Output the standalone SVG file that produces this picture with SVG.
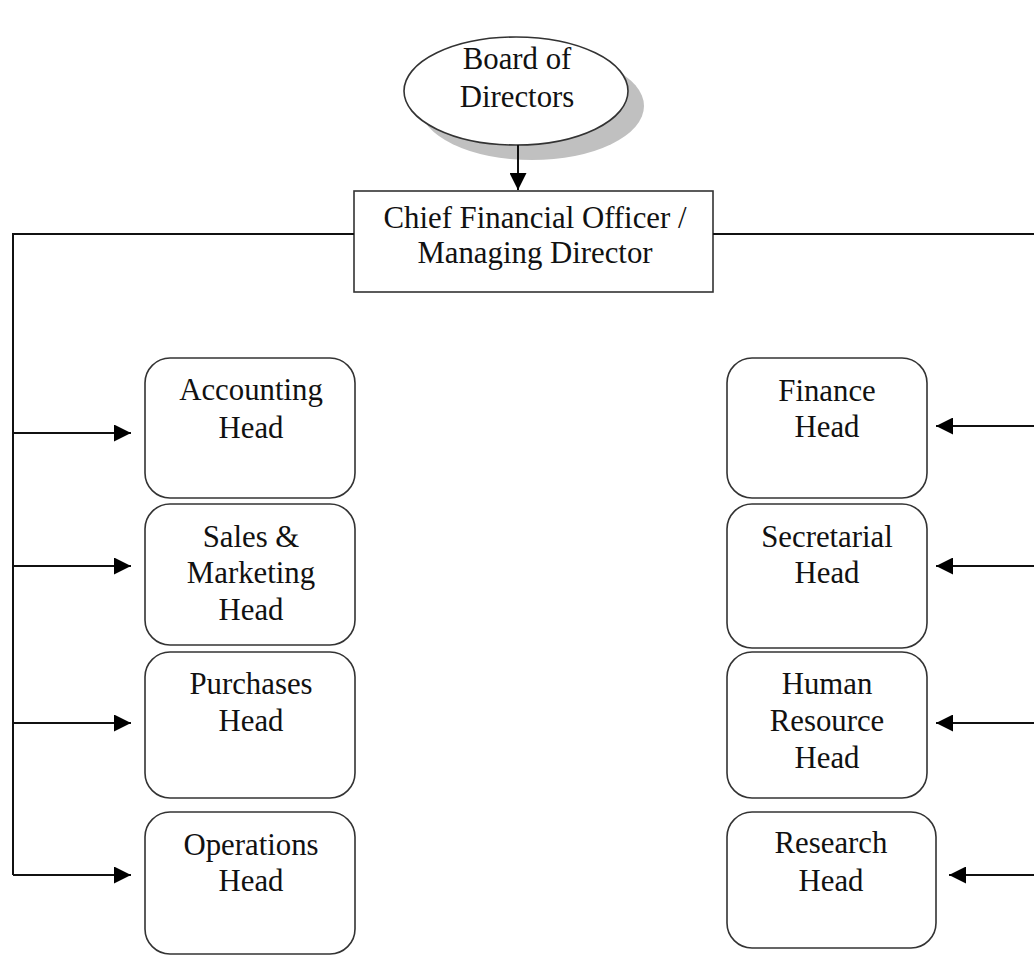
<svg xmlns="http://www.w3.org/2000/svg" width="1034" height="956" viewBox="0 0 1034 956">
<style>
.t{font-family:"Liberation Serif","Times New Roman",serif;font-size:30.8px;fill:#111;text-anchor:middle}
.box{fill:#fff;stroke:#333;stroke-width:1.6}
.ln{fill:none;stroke:#111;stroke-width:2}
</style>
<defs>
<marker id="ah" markerWidth="17" markerHeight="17" refX="17" refY="8.5" orient="auto" markerUnits="userSpaceOnUse">
<path d="M0,0 L17,8.5 L0,17 Z" fill="#000"/>
</marker>
</defs>
<rect width="1034" height="956" fill="#fff"/>
<g id="board">
<ellipse cx="532" cy="106" rx="112" ry="54" fill="#c0c0c0"/>
<ellipse cx="516" cy="91" rx="112" ry="54" class="box"/>
<text class="t" x="517" y="69">Board of</text>
<text class="t" x="517" y="107">Directors</text>
</g>
<g id="cfo">
<rect x="354" y="191" width="359" height="101" class="box"/>
<text class="t" x="535" y="228">Chief Financial Officer /</text>
<text class="t" x="535" y="263">Managing Director</text>
</g>
<g id="accounting">
<rect x="145" y="358" width="210" height="140" rx="25" class="box"/>
<text class="t" x="251" y="400">Accounting</text>
<text class="t" x="251" y="438">Head</text>
</g>
<g id="sales">
<rect x="145" y="504" width="210" height="141" rx="25" class="box"/>
<text class="t" x="251" y="547">Sales &amp;</text>
<text class="t" x="251" y="583">Marketing</text>
<text class="t" x="251" y="620">Head</text>
</g>
<g id="purchases">
<rect x="145" y="652" width="210" height="146" rx="25" class="box"/>
<text class="t" x="251" y="694">Purchases</text>
<text class="t" x="251" y="731">Head</text>
</g>
<g id="operations">
<rect x="145" y="812" width="210" height="142" rx="25" class="box"/>
<text class="t" x="251" y="855">Operations</text>
<text class="t" x="251" y="891">Head</text>
</g>
<g id="finance">
<rect x="727" y="358" width="200" height="140" rx="25" class="box"/>
<text class="t" x="827" y="401">Finance</text>
<text class="t" x="827" y="437">Head</text>
</g>
<g id="secretarial">
<rect x="727" y="504" width="200" height="144" rx="25" class="box"/>
<text class="t" x="827" y="547">Secretarial</text>
<text class="t" x="827" y="583">Head</text>
</g>
<g id="hr">
<rect x="727" y="652" width="200" height="146" rx="25" class="box"/>
<text class="t" x="827" y="694">Human</text>
<text class="t" x="827" y="731">Resource</text>
<text class="t" x="827" y="768">Head</text>
</g>
<g id="research">
<rect x="727" y="812" width="209" height="136" rx="25" class="box"/>
<text class="t" x="831" y="853">Research</text>
<text class="t" x="831" y="891">Head</text>
</g>
<g id="connectors">
<line x1="518" y1="145" x2="518" y2="190" class="ln" marker-end="url(#ah)"/>
<polyline points="354,234 13,234 13,875" class="ln"/>
<line x1="713" y1="234" x2="1034" y2="234" class="ln"/>
<line x1="13" y1="433" x2="131" y2="433" class="ln" marker-end="url(#ah)"/>
<line x1="13" y1="566" x2="131" y2="566" class="ln" marker-end="url(#ah)"/>
<line x1="13" y1="723" x2="131" y2="723" class="ln" marker-end="url(#ah)"/>
<line x1="13" y1="875" x2="131" y2="875" class="ln" marker-end="url(#ah)"/>
<line x1="1034" y1="426" x2="936" y2="426" class="ln" marker-end="url(#ah)"/>
<line x1="1034" y1="566" x2="936" y2="566" class="ln" marker-end="url(#ah)"/>
<line x1="1034" y1="723" x2="936" y2="723" class="ln" marker-end="url(#ah)"/>
<line x1="1034" y1="875" x2="949" y2="875" class="ln" marker-end="url(#ah)"/>
</g>
</svg>
